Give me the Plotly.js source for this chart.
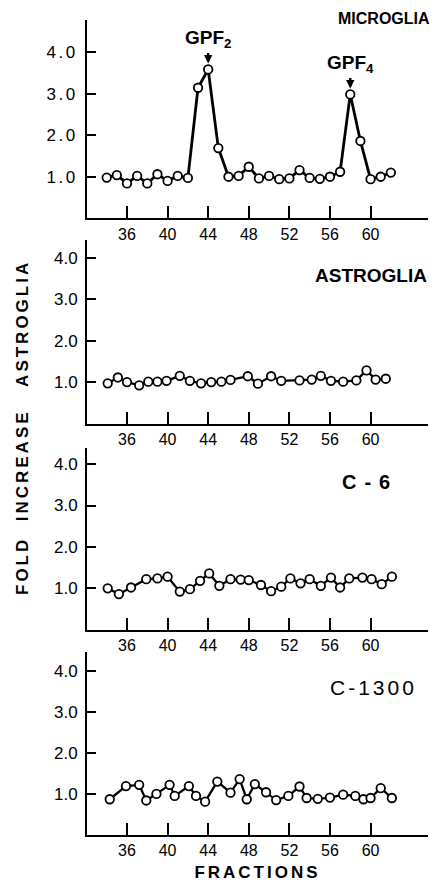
<!DOCTYPE html>
<html>
<head>
<meta charset="utf-8">
<script src="https://cdn.plot.ly/plotly-3.0.1.min.js"></script>
<style>
html,body{margin:0;padding:0;background:#fff;}
#chart{width:434px;height:886px;}
g.ytick text{letter-spacing:2.5px;}
</style>
</head>
<body>
<div id="chart"></div>
<script>
// ---- data ----
const panelNames = ["MICROGLIA", "ASTROGLIA", "C-6", "C-1300"];

const microFractions = [34,35,36,37,38,39,40,41,42,43,44,45,46,47,48,49,50,51,52,53,54,55,56,57,58,59,60,61,62];
const microFold = [0.98,1.04,0.84,1.02,0.84,1.06,0.90,1.02,0.97,3.14,3.58,1.69,1.00,1.02,1.24,0.96,1.02,0.94,0.96,1.16,0.97,0.95,1.00,1.12,2.98,1.86,0.94,1.00,1.10];

const astroFractions = [34.1,35.1,36.0,37.2,38.1,39.0,39.9,41.2,42.2,43.3,44.3,45.3,46.2,47.9,48.9,50.2,51.2,53.0,54.2,55.1,56.1,57.3,58.6,59.6,60.5,61.5];
const astroFold = [0.98,1.12,1.01,0.93,1.02,1.02,1.04,1.16,1.04,0.98,1.01,1.02,1.06,1.15,0.97,1.15,1.04,1.05,1.07,1.16,1.04,1.02,1.05,1.29,1.07,1.09];

const c6Fractions = [34.1,35.2,36.4,37.9,39.0,40.0,41.2,42.2,43.2,44.1,45.1,46.2,47.2,48.0,49.2,50.2,51.2,52.1,53.1,54.0,55.1,56.1,57.0,57.9,59.2,60.1,61.1,62.1];
const c6Fold = [1.00,0.86,1.02,1.22,1.24,1.28,0.92,0.98,1.18,1.36,1.06,1.22,1.21,1.20,1.08,0.93,1.04,1.24,1.12,1.22,1.06,1.26,1.02,1.24,1.26,1.22,1.10,1.28];

const c1300Fractions = [34.3,35.9,37.2,37.9,38.9,40.2,40.7,42.1,42.8,43.7,44.9,46.2,47.1,47.8,48.6,49.7,50.7,51.9,53.0,53.7,54.8,56.0,57.3,58.5,59.3,60.0,61.0,62.1];
const c1300Fold = [0.87,1.19,1.22,0.84,1.00,1.22,0.95,1.19,0.95,0.81,1.30,1.03,1.36,0.87,1.24,1.04,0.85,0.95,1.18,0.90,0.88,0.91,0.98,0.95,0.87,0.90,1.14,0.90];

const xTickVals = [36,40,44,48,52,56,60];
const yTickVals = [1,2,3,4];
const yTickText = ["1.0","2.0","3.0","4.0"];

const peakLabels = ["GPF<sub>2</sub>", "GPF<sub>4</sub>"];
const peakFractions = [44, 58];
const peakFold = [3.58, 2.98];

const yTitle = "FOLD  INCREASE   ASTROGLIA";
const xTitle = "FRACTIONS";

// ---- layout geometry ----
const W = 434, H = 886;
const M = {l:87, r:6, t:18, b:51};
const PW = W - M.l - M.r, PH = H - M.t - M.b;
const px2x = px => (px - M.l) / PW;
const px2y = py => (H - M.b - py) / PH;

const FONT = "Liberation Sans, Arial, sans-serif";
const sp = (t, ls) => '<span style="letter-spacing:' + ls + 'px">' + t + '</span>';

function trace(xs, ys, idx, lw){
  const s = idx === 1 ? "" : String(idx);
  return {
    x: xs, y: ys, xaxis: "x" + s, yaxis: "y" + s,
    type: "scatter", mode: "lines+markers",
    line: {color: "#000", width: lw},
    marker: {symbol: "circle", size: 8.5, color: "#fff", line: {color: "#000", width: 1.8}},
    cliponaxis: false, showlegend: false, hoverinfo: "skip"
  };
}

const data = [
  trace(microFractions, microFold, 1, 2.8),
  trace(astroFractions, astroFold, 2, 2.3),
  trace(c6Fractions, c6Fold, 3, 2.3),
  trace(c1300Fractions, c1300Fold, 4, 2.3)
];

function xAxis(anchor){
  return {
    anchor: anchor, range: [32.06, 65.66], domain: [0, 1],
    tickvals: xTickVals, ticks: "inside", ticklen: 12, tickwidth: 2, tickcolor: "#000",
    showline: true, linecolor: "#000", linewidth: 2, showgrid: false, zeroline: false,
    tickfont: {family: FONT, size: 16, color: "#000"}, fixedrange: true
  };
}
function yAxis(anchor, dom, top){
  return {
    anchor: anchor, domain: dom, range: [0, top],
    tickvals: yTickVals, ticktext: yTickText, ticks: "inside", ticklen: 9, tickwidth: 2, tickcolor: "#000",
    showline: true, linecolor: "#000", linewidth: 2, showgrid: false, zeroline: false,
    ticklabelstandoff: 4,
    tickfont: {family: FONT, size: 17, color: "#000"}, fixedrange: true
  };
}

const x4 = xAxis("y4");
x4.title = {text: sp("<b>" + xTitle + "</b>", 3), font: {family: FONT, size: 17, color: "#000"}, standoff: 8};

const layout = {
  width: W, height: H, margin: M,
  paper_bgcolor: "#fff", plot_bgcolor: "#fff",
  xaxis: xAxis("y"), xaxis2: xAxis("y2"), xaxis3: xAxis("y3"), xaxis4: x4,
  yaxis: yAxis("x", [px2y(218.3), px2y(20)], 4.77),
  yaxis2: yAxis("x2", [px2y(424), px2y(240)], 4.43),
  yaxis3: yAxis("x3", [px2y(629.7), px2y(448)], 4.39),
  yaxis4: yAxis("x4", [px2y(835), px2y(651.7)], 4.46),
  annotations: [
    {text: "<b>" + panelNames[0] + "</b>", xref: "paper", yref: "paper", x: px2x(432), y: px2y(19), xanchor: "right", yanchor: "middle", showarrow: false, font: {family: FONT, size: 16, color: "#000"}},
    {text: "<b>" + panelNames[1] + "</b>", xref: "paper", yref: "paper", x: px2x(429), y: px2y(275), xanchor: "right", yanchor: "middle", showarrow: false, font: {family: FONT, size: 19, color: "#000"}},
    {text: sp("<b>" + panelNames[2] + "</b>", 8), xref: "paper", yref: "paper", x: px2x(370), y: px2y(482), xanchor: "center", yanchor: "middle", showarrow: false, font: {family: FONT, size: 20, color: "#000"}},
    {text: sp(panelNames[3], 3), xref: "paper", yref: "paper", x: px2x(373), y: px2y(687), xanchor: "center", yanchor: "middle", showarrow: false, font: {family: FONT, size: 21, color: "#000"}},
    {text: "<b>" + peakLabels[0] + "</b>", xref: "x", yref: "y", x: peakFractions[0], y: peakFold[0], ax: 0, ay: -30, showarrow: true, arrowhead: 2, arrowsize: 0.7, arrowwidth: 2.4, arrowcolor: "#000", standoff: 6, font: {family: FONT, size: 19, color: "#000"}},
    {text: "<b>" + peakLabels[1] + "</b>", xref: "x", yref: "y", x: peakFractions[1], y: peakFold[1], ax: 0, ay: -30, showarrow: true, arrowhead: 2, arrowsize: 0.7, arrowwidth: 2.4, arrowcolor: "#000", standoff: 6, font: {family: FONT, size: 19, color: "#000"}},
    {text: sp("<b>" + yTitle + "</b>", 3), xref: "paper", yref: "paper", x: px2x(22), y: px2y(428), textangle: -90, xanchor: "center", yanchor: "middle", showarrow: false, font: {family: FONT, size: 17, color: "#000"}}
  ]
};

Plotly.newPlot("chart", data, layout, {staticPlot: true, displayModeBar: false});
</script>
</body>
</html>
